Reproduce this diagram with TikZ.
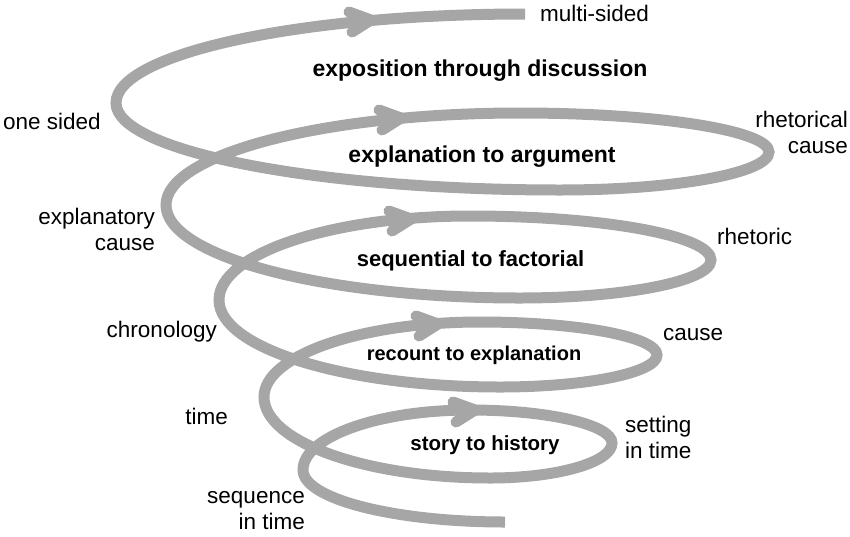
\documentclass[tikz,border=0pt]{standalone}
\usepackage{fontspec}
\setmainfont{Liberation Sans}
\definecolor{bandgray}{RGB}{166,166,166}
\begin{document}
\begin{tikzpicture}[x=1pt,y=-1pt,
  band/.style={draw=bandgray, line width=11pt},
  chev/.style={band, line cap=round, line join=round},
  lab/.style={inner sep=0pt, font=\fontsize{22.5}{26}\selectfont},
  blab/.style={inner sep=0pt, font=\bfseries\fontsize{#1}{26}\selectfont}]
\useasboundingbox (0,0) rectangle (850,536);
% key points of the spiral
\coordinate (S)  at (505,522);
\coordinate (L1) at (303,470);
\coordinate (T1) at (470,410);
\coordinate (R1) at (612,443);
\coordinate (B1) at (490,478);
\coordinate (L2) at (264,397);
\coordinate (T2) at (480,322);
\coordinate (R2) at (657,355);
\coordinate (B2) at (500,387);
\coordinate (L3) at (219,300);
\coordinate (T3) at (470,216);
\coordinate (R3) at (711,260);
\coordinate (B3) at (520,298);
\coordinate (L4) at (166,205);
\coordinate (T4) at (520,113);
\coordinate (R4) at (769,152);
\coordinate (B4) at (560,190);
\coordinate (L5) at (116,103);
\coordinate (E)  at (525,14);
% spiral
\draw[band] (S)
  .. controls +(-111.6,0) and +(0,28.7) .. (L1)
  .. controls +(0,-33.1) and +(-92.2,0) .. (T1)
  .. controls +(78.4,0) and +(0,-18.2) .. (R1)
  .. controls +(0,19.3) and +(67.4,0) .. (B1)
  .. controls +(-124.8,0) and +(0,44.7) .. (L2)
  .. controls +(0,-41.4) and +(-119.3,0) .. (T2)
  .. controls +(97.8,0) and +(0,-18.2) .. (R2)
  .. controls +(0,17.7) and +(86.7,0) .. (B2)
  .. controls +(-155.2,0) and +(0,48) .. (L3)
  .. controls +(0,-46.4) and +(-138.6,0) .. (T3)
  .. controls +(133.1,0) and +(0,-24.3) .. (R3)
  .. controls +(0,21) and +(105.5,0) .. (B3)
  .. controls +(-195.5,0) and +(0,51.4) .. (L4)
  .. controls +(0,-50.8) and +(-195.5,0) .. (T4)
  .. controls +(137.5,0) and +(0,-21.5) .. (R4)
  .. controls +(0,21) and +(115.4,0) .. (B4)
  .. controls +(-245.2,0) and +(0,48) .. (L5)
  .. controls +(0,-49.2) and +(-225.9,0) .. (E);
% arrow heads
\coordinate (A1) at (475,410);
\coordinate (A2) at (438,324);
\coordinate (A3) at (411,219);
\coordinate (A4) at (401,118);
\coordinate (A5) at (371,20);
\foreach \a in {A1,A2,A3,A4,A5}{
  \draw[chev] (\a) ++(-22,-8) -- (\a) -- +(-19,12);
}
% bold labels
\node[blab=23]   (lexpo) at (480,71)  {exposition through discussion};
\node[blab=23]   (lexpl) at (482,157) {explanation to argument};
\node[blab=22]   (lseq)  at (470.5,261) {sequential to factorial};
\node[blab=20]   (lrec)  at (474,355) {recount to explanation};
\node[blab=20.5] (lsto)  at (485,445) {story to history};
% side labels
\node[lab, anchor=west] (lmulti) at (540,13) {multi-sided};
\node[lab, anchor=west] (lone) at (3,121) {one sided};
\node[lab, anchor=east, align=right] (lrhc) at (848,132.5) {rhetorical\\cause};
\node[lab, anchor=east, align=right] (lexc) at (155,229.5) {explanatory\\cause};
\node[lab, anchor=west] (lrhe) at (717,236) {rhetoric};
\node[lab, anchor=east] (lchr) at (217,332) {chronology};
\node[lab, anchor=west] (lcau) at (663,335) {cause};
\node[lab, anchor=east] (ltim) at (228,416) {time};
\node[lab, anchor=west, align=left] (lset) at (625,437.5) {setting\\in time};
\node[lab, anchor=east, align=right] (lseqt) at (305,511) {sequence\\in time};
\end{tikzpicture}
\end{document}
